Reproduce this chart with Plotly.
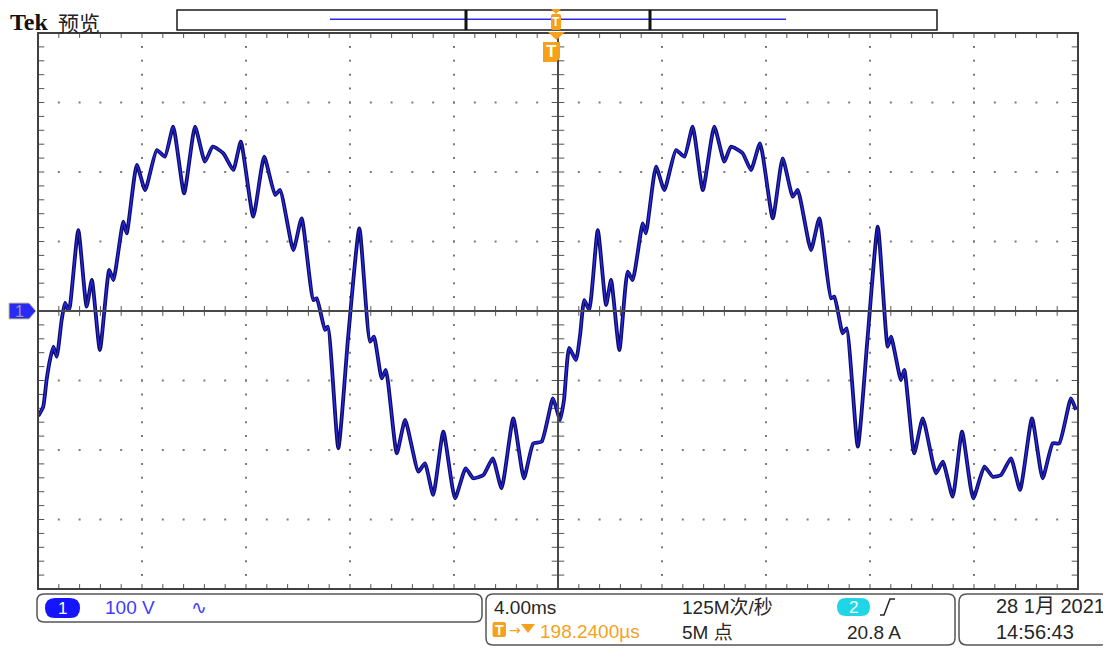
import plotly.graph_objects as go

# ---------------- data (time in ms, voltage in V; 4 ms/div, 100 V/div) ----------------
time_ms = [-19.99, -19.80, -19.67, -19.54, -19.41, -19.28, -19.09, -18.96, -18.83, -18.77,
           -18.45, -18.13, -17.93, -17.62, -17.26, -17.10, -16.72, -16.59, -16.20, -15.88,
           -15.43, -15.12, -14.80, -14.38, -13.96, -13.58, -13.28, -12.87, -12.49, -12.20,
           -11.72, -11.30, -10.88, -10.69, -10.18, -9.86, -9.41, -9.28, -8.96, -8.85,
           -8.45, -8.07, -7.64, -7.23, -7.08, -6.78, -6.62, -6.20, -5.88, -5.37,
           -5.12, -4.80, -4.41, -3.96, -3.55, -3.26, -2.87, -2.51, -2.17, -1.72,
           -1.31, -0.95, -0.63, -0.20, -0.08, 0.08,
           0.23, 0.43, 0.69, 0.85, 1.01, 1.20, 1.53, 1.85, 2.04, 2.36,
           2.68, 2.87, 3.26, 3.38, 3.77, 4.09, 4.54, 4.86, 5.18, 5.57,
           6.01, 6.40, 6.65, 7.10, 7.42, 7.77, 8.26, 8.64, 9.03, 9.22,
           9.73, 10.05, 10.50, 10.63, 10.95, 11.10, 11.53, 11.91, 12.30, 12.68,
           12.81, 13.19, 13.32, 13.70, 14.03, 14.54, 14.80, 15.18, 15.54, 15.97,
           16.40, 16.72, 17.04, 17.42, 17.77, 18.23, 18.64, 19.03, 19.28, 19.73, 19.92]
volts = [-151.1, -137.7, -99.3, -70.5, -51.4, -65.8, -12.9, 11.5, 1.4, 7.2,
         116.5, 6.2, 44.6, -56.1, 59.0, 44.6, 128.5, 111.8, 210.1, 174.1,
         231.6, 222.0, 265.2, 169.3, 265.2, 214.8, 236.4, 226.9, 202.9, 243.6,
         135.7, 222.0, 166.9, 174.1, 87.8, 133.4, 15.8, 18.3, -27.3, -22.6,
         -197.5, -37.0, 119.0, -44.2, -37.0, -96.8, -84.9, -204.7, -156.8, -231.2,
         -219.1, -264.7, -173.7, -269.5, -226.3, -240.7, -236.0, -211.9, -255.1, -154.4,
         -240.7, -190.4, -188.1, -125.6, -137.7, -156.8,
         -128.1, -53.2, -70.5, -34.5, 15.8, 1.4, 116.5, 8.6, 44.6, -56.1,
         56.5, 44.6, 126.2, 111.8, 207.6, 174.1, 231.6, 222.0, 265.2, 174.1,
         265.2, 214.8, 236.4, 226.9, 202.9, 241.3, 133.4, 219.7, 164.5, 174.1,
         87.8, 133.4, 18.3, 20.6, -32.1, -24.9, -195.2, -37.0, 121.3, -51.4,
         -37.0, -99.3, -84.9, -204.7, -154.4, -233.5, -216.8, -267.2, -173.7, -269.5,
         -224.0, -238.4, -236.0, -211.9, -257.5, -154.4, -240.7, -190.4, -190.4, -125.6, -142.4]

X_DIV_MS = 4.0      # ms per division
Y_DIV_V = 100.0     # V per division
N_XDIV = 10
N_YDIV = 8

header_brand = "Tek"
header_mode = "预览"
ch1_scale = "100 V"
timebase = "4.00ms"
sample_rate = "125M次/秒"
trig_pos = "198.2400µs"
record_len = "5M 点"
trig_level = "20.8 A"
date_txt = "28 1月 2021"
time_txt = "14:56:43"

# ---------------- geometry helpers (screen pixel coords) ----------------
OFF = 8                       # page body margin
FW, FH = 1111 - OFF, 671 - OFF
L, R, T, B = 38, 1078, 33, 589


def px(x):
    return (x - L) / (R - L)


def py(y):
    return (B - y) / (B - T)


FONT = "Liberation Sans, Noto Sans CJK SC, sans-serif"
ORANGE = "#f5a11c"
BLUE_TXT = "#3c3cff"
DARK = "#262626"

fig = go.Figure()

xmin, xmax = -N_XDIV / 2 * X_DIV_MS, N_XDIV / 2 * X_DIV_MS
ymin, ymax = -N_YDIV / 2 * Y_DIV_V, N_YDIV / 2 * Y_DIV_V
xminor = X_DIV_MS / 5
yminor = Y_DIV_V / 5

# grid dots
gx, gy = [], []
for i in range(1, N_XDIV):
    t = xmin + i * X_DIV_MS
    if abs(t) < 1e-9:
        continue
    for k in range(1, N_YDIV * 5):
        gx.append(t)
        gy.append(ymin + k * yminor)
for j in range(1, N_YDIV):
    v = ymin + j * Y_DIV_V
    if abs(v) < 1e-9:
        continue
    for k in range(1, N_XDIV * 5):
        gx.append(xmin + k * xminor)
        gy.append(v)
fig.add_trace(go.Scatter(x=gx, y=gy, mode="markers", hoverinfo="skip",
                         marker=dict(symbol="square", size=2, color="#7a7a7a"),
                         showlegend=False))

# ticks on centre horizontal line and top/bottom borders
tx, ty = [], []
for k in range(1, N_XDIV * 5):
    t = xmin + k * xminor
    for v in (0, ymin, ymax):
        tx.append(t)
        ty.append(v)
fig.add_trace(go.Scatter(x=tx, y=ty, mode="markers", hoverinfo="skip",
                         marker=dict(symbol="line-ns", size=7, color="#555",
                                     line=dict(width=1, color="#555")),
                         showlegend=False))
vx, vy = [], []
for k in range(1, N_YDIV * 5):
    v = ymin + k * yminor
    for t in (0, xmin, xmax):
        vx.append(t)
        vy.append(v)
fig.add_trace(go.Scatter(x=vx, y=vy, mode="markers", hoverinfo="skip",
                         marker=dict(symbol="line-ew", size=9, color="#555",
                                     line=dict(width=1, color="#555")),
                         showlegend=False))

# centre cross lines
fig.add_shape(type="line", x0=0, x1=0, y0=ymin, y1=ymax, xref="x", yref="y",
              line=dict(color="#4a4a4a", width=2))
fig.add_shape(type="line", x0=xmin, x1=xmax, y0=0, y1=0, xref="x", yref="y",
              line=dict(color="#4a4a4a", width=2))

# waveform
fig.add_trace(go.Scatter(x=time_ms, y=volts, mode="lines", hoverinfo="skip",
                         line=dict(color="#0c0c66", width=3.8, shape="spline", smoothing=0.5),
                         showlegend=False))
fig.add_trace(go.Scatter(x=time_ms, y=volts, mode="lines", hoverinfo="skip",
                         line=dict(color="#2a2ae6", width=1.4, shape="spline", smoothing=0.5),
                         showlegend=False))

# plot border
fig.add_shape(type="rect", x0=0, x1=1, y0=0, y1=1, xref="paper", yref="paper",
              line=dict(color="#404040", width=2))


def rrect(x0, y0, x1, y1, r, line_color=None, fill=None, lw=1.5):
    rx = r / (R - L)
    ry = r / (B - T)
    X0, X1 = px(x0), px(x1)
    Y0, Y1 = py(y0), py(y1)   # Y0 top, Y1 bottom (Y0 > Y1)
    path = (f"M {X0+rx},{Y0} L {X1-rx},{Y0} Q {X1},{Y0} {X1},{Y0-ry} "
            f"L {X1},{Y1+ry} Q {X1},{Y1} {X1-rx},{Y1} L {X0+rx},{Y1} "
            f"Q {X0},{Y1} {X0},{Y1+ry} L {X0},{Y0-ry} Q {X0},{Y0} {X0+rx},{Y0} Z")
    fig.add_shape(type="path", path=path, xref="paper", yref="paper",
                  line=dict(color=line_color or "rgba(0,0,0,0)", width=lw if line_color else 0),
                  fillcolor=fill or "rgba(0,0,0,0)")


def poly(points, fill, line_color=None, lw=0):
    p = "M " + " L ".join(f"{px(a)},{py(b)}" for a, b in points) + " Z"
    fig.add_shape(type="path", path=p, xref="paper", yref="paper", fillcolor=fill,
                  line=dict(color=line_color or fill, width=lw))


def ann(text, x, y, size=19, color=DARK, anchor="left", family=FONT, bold=False):
    if bold:
        text = f"<b>{text}</b>"
    fig.add_annotation(text=text, x=px(x), y=py(y), xref="paper", yref="paper",
                       xanchor=anchor, yanchor="middle", showarrow=False,
                       font=dict(size=size, color=color, family=family))


# header
ann(header_brand, 8, 22, size=24, color="#111", family="Liberation Serif", bold=True)
ann(header_mode, 56, 22, size=21, color="#222", family="Noto Sans CJK SC")

# record view bar
fig.add_shape(type="rect", x0=px(177), x1=px(937), y0=py(10), y1=py(30), xref="paper", yref="paper",
              line=dict(color="#1a1a1a", width=1.5), fillcolor="white")
fig.add_shape(type="line", x0=px(330), x1=px(786), y0=py(19.3), y1=py(19.3), xref="paper", yref="paper",
              line=dict(color="#2a2af0", width=1.5))
for sx in (466, 650):
    fig.add_shape(type="line", x0=px(sx), x1=px(sx), y0=py(10), y1=py(30), xref="paper", yref="paper",
                  line=dict(color="#111", width=3))

# small trigger marker on bar
poly([(551, 9), (561, 9), (556, 14)], ORANGE)
rrect(551, 14, 561, 30, 2, fill=ORANGE)
ann("T", 556, 22, size=12, color="white", anchor="center", bold=True)
# big trigger marker
poly([(548, 32), (565, 32), (556.5, 40)], ORANGE)
poly([(543, 42), (560, 42), (560, 58), (556, 62), (543, 62)], ORANGE)
ann("T", 551.5, 51.5, size=17, color="white", anchor="center", bold=True)

# channel 1 ground marker
poly([(9, 303), (29, 303), (36, 311), (29, 319), (9, 319)], "#2a2af5", line_color="#c8c890", lw=1)
ann("1", 19, 311, size=16, color="#9a9aa8", anchor="center")

# bottom panels
rrect(37, 594, 482, 622, 7, line_color="#555")
rrect(45, 598, 80, 618, 10, fill="#1414ff")
ann("1", 62.5, 608, size=17, color="white", anchor="center")
ann(ch1_scale, 103, 607, size=19, color=BLUE_TXT)
ann("∿", 189, 607, size=19, color=BLUE_TXT, family="DejaVu Sans")

rrect(486, 594, 955, 645, 7, line_color="#555")
ann(timebase, 492, 607, size=19)
ann(sample_rate, 680, 607, size=19)
rrect(837, 598, 870, 616, 9, fill="#1fd6e6")
ann("2", 853.5, 607, size=17, color="white", anchor="center")
fig.add_shape(type="path", xref="paper", yref="paper",
              path=f"M {px(880)},{py(615)} L {px(884)},{py(615)} L {px(890)},{py(599)} L {px(895)},{py(599)}",
              line=dict(color=DARK, width=1.5))
rrect(492.5, 622, 506, 637, 2, fill=ORANGE)
ann("T", 499.3, 629.5, size=14, color="white", anchor="center", bold=True)
ann("→", 507, 630, size=14, color=ORANGE, family="DejaVu Sans")
poly([(521, 624), (535, 624), (528, 633)], ORANGE)
ann(trig_pos, 538, 631, size=19, color=ORANGE)
ann(record_len, 680, 632, size=19)
ann(trig_level, 845, 632, size=19)

rrect(959, 594, 1109, 645, 8, line_color="#555")
ann(date_txt, 994, 606, size=20)
ann(time_txt, 994, 632, size=20)

fig.update_layout(
    width=FW, height=FH,
    margin=dict(l=L - OFF, r=FW - (R - OFF), t=T - OFF, b=FH - (B - OFF), pad=0),
    paper_bgcolor="white", plot_bgcolor="white",
    xaxis=dict(range=[xmin, xmax], showgrid=False, zeroline=False, showticklabels=False,
               ticks="", showline=False, fixedrange=True),
    yaxis=dict(range=[ymin, ymax], showgrid=False, zeroline=False, showticklabels=False,
               ticks="", showline=False, fixedrange=True),
    showlegend=False,
)

fig.write_html("out.html")
